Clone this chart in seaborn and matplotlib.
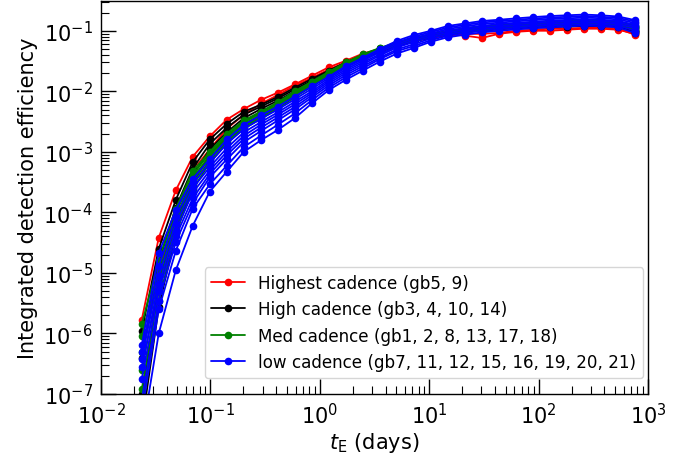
import numpy as np
import matplotlib
matplotlib.use("Agg")
import matplotlib.pyplot as plt
from matplotlib.lines import Line2D
import seaborn as sns
sns.set_style("white")
import pandas as pd

plt.rcParams['font.family'] = ['DejaVu Sans']
plt.rcParams['text.color'] = 'black'
plt.rcParams['axes.labelcolor'] = 'black'

# Einstein timescale grid (days)
tE = [0.0236, 0.0337, 0.0482, 0.0689, 0.0986, 0.141, 0.202, 0.289, 0.413, 0.591,
      0.845, 1.21, 1.73, 2.48, 3.54, 5.06, 7.24, 10.4, 14.8, 21.2,
      30.3, 43.4, 62.1, 88.8, 127, 182, 260, 372, 532, 761]

# Highest cadence fields
gb5 = [1.7e-6, 3.8e-5, 2.3e-4, 8.3e-4, 1.8e-3, 3.4e-3, 5.1e-3, 7.2e-3, 9.5e-3, 1.3e-2,
       1.8e-2, 2.5e-2, 3.2e-2, 4.2e-2, 5.0e-2, 6.1e-2, 6.8e-2, 7.9e-2, 8.9e-2, 8.3e-2,
       7.6e-2, 8.9e-2, 0.096, 0.100, 0.100, 0.104, 0.108, 0.108, 0.104, 0.089]
gb9 = [5e-8, 9.6e-6, 1.05e-4, 4.9e-4, 1.1e-3, 2.4e-3, 4.1e-3, 6.2e-3, 8.7e-3, 1.23e-2,
       1.66e-2, 2.3e-2, 3.0e-2, 3.9e-2, 4.9e-2, 5.9e-2, 6.8e-2, 7.6e-2, 8.3e-2, 8.9e-2,
       8.9e-2, 9.2e-2, 0.100, 0.104, 0.108, 0.108, 0.112, 0.112, 0.108, 0.086]

# High cadence fields
gb3 = [1.1e-6, 2.5e-5, 1.6e-4, 6.8e-4, 1.6e-3, 2.9e-3, 4.6e-3, 6.0e-3, 8.1e-3, 1.15e-2,
       1.6e-2, 2.2e-2, 3.0e-2, 3.9e-2, 4.9e-2, 5.9e-2, 7.0e-2, 8.3e-2, 9.2e-2, 0.100,
       0.104, 0.112, 0.117, 0.120, 0.123, 0.126, 0.130, 0.128, 0.125, 0.100]
gb4 = [4e-7, 1.5e-5, 1.2e-4, 5.3e-4, 1.35e-3, 2.5e-3, 4.1e-3, 5.6e-3, 7.6e-3, 1.08e-2,
       1.5e-2, 2.1e-2, 2.85e-2, 3.8e-2, 4.8e-2, 5.8e-2, 6.9e-2, 8.0e-2, 9.0e-2, 0.098,
       0.103, 0.110, 0.115, 0.118, 0.120, 0.124, 0.127, 0.125, 0.122, 0.098]
gb10 = [1.0e-7, 6e-6, 7e-5, 4e-4, 1.1e-3, 2.1e-3, 3.6e-3, 5.1e-3, 7.0e-3, 1.0e-2,
        1.42e-2, 2.0e-2, 2.7e-2, 3.6e-2, 4.6e-2, 5.7e-2, 6.8e-2, 7.9e-2, 8.8e-2, 0.096,
        0.100, 0.108, 0.113, 0.116, 0.118, 0.121, 0.123, 0.122, 0.120, 0.095]
gb14 = [3e-8, 2.7e-6, 4.5e-5, 3e-4, 9e-4, 1.8e-3, 3.2e-3, 4.6e-3, 6.4e-3, 9.2e-3,
        1.32e-2, 1.9e-2, 2.6e-2, 3.5e-2, 4.5e-2, 5.6e-2, 6.7e-2, 7.8e-2, 8.8e-2, 0.095,
        0.100, 0.106, 0.110, 0.113, 0.115, 0.117, 0.120, 0.119, 0.116, 0.093]

# Med cadence fields
gb1 = [1.43e-6, 1.6e-5, 1.15e-4, 4.8e-4, 1.0e-3, 2.0e-3, 3.3e-3, 4.6e-3, 6.6e-3, 1.0e-2,
       1.45e-2, 2.1e-2, 3.0e-2, 4.1e-2, 5.2e-2, 6.4e-2, 7.6e-2, 8.8e-2, 0.100, 0.110,
       0.118, 0.126, 0.132, 0.137, 0.140, 0.145, 0.148, 0.146, 0.142, 0.120]
gb2 = [9e-7, 1.2e-5, 9.5e-5, 4.2e-4, 9.5e-4, 1.85e-3, 3.1e-3, 4.35e-3, 6.3e-3, 9.6e-3,
       1.4e-2, 2.05e-2, 2.95e-2, 4.0e-2, 5.1e-2, 6.3e-2, 7.5e-2, 8.6e-2, 0.097, 0.107,
       0.115, 0.122, 0.128, 0.133, 0.136, 0.140, 0.144, 0.142, 0.138, 0.117]
gb8 = [5e-7, 9e-6, 8e-5, 3.7e-4, 8.7e-4, 1.7e-3, 2.9e-3, 4.1e-3, 6.0e-3, 9.2e-3,
       1.35e-2, 2.0e-2, 2.85e-2, 3.9e-2, 5.0e-2, 6.2e-2, 7.3e-2, 8.4e-2, 0.095, 0.104,
       0.112, 0.119, 0.125, 0.130, 0.133, 0.137, 0.140, 0.138, 0.134, 0.114]
gb13 = [2.5e-7, 7e-6, 6.5e-5, 3.2e-4, 8.0e-4, 1.6e-3, 2.7e-3, 3.9e-3, 5.7e-3, 8.8e-3,
        1.3e-2, 1.95e-2, 2.75e-2, 3.75e-2, 4.85e-2, 6.0e-2, 7.1e-2, 8.2e-2, 0.093, 0.101,
        0.109, 0.116, 0.122, 0.126, 0.129, 0.133, 0.136, 0.134, 0.130, 0.110]
gb17 = [1.2e-7, 5e-6, 5.5e-5, 2.8e-4, 7.3e-4, 1.5e-3, 2.55e-3, 3.7e-3, 5.5e-3, 8.4e-3,
        1.25e-2, 1.9e-2, 2.65e-2, 3.6e-2, 4.7e-2, 5.9e-2, 7.0e-2, 8.0e-2, 0.090, 0.099,
        0.106, 0.113, 0.119, 0.123, 0.126, 0.129, 0.132, 0.130, 0.127, 0.107]
gb18 = [6e-8, 3.5e-6, 4.5e-5, 2.4e-4, 6.6e-4, 1.4e-3, 2.4e-3, 3.5e-3, 5.2e-3, 8.0e-3,
        1.2e-2, 1.82e-2, 2.55e-2, 3.5e-2, 4.6e-2, 5.7e-2, 6.8e-2, 7.8e-2, 0.088, 0.096,
        0.103, 0.110, 0.115, 0.119, 0.122, 0.125, 0.128, 0.126, 0.123, 0.104]

# low cadence fields
gb7 = [6.5e-7, 2.1e-5, 1.1e-4, 3.6e-4, 7.6e-4, 1.6e-3, 2.8e-3, 4.0e-3, 5.6e-3, 8.2e-3,
       1.2e-2, 1.75e-2, 2.6e-2, 3.6e-2, 5.0e-2, 6.8e-2, 8.5e-2, 0.100, 0.120, 0.132,
       0.145, 0.152, 0.160, 0.168, 0.175, 0.180, 0.185, 0.180, 0.172, 0.150]
gb11 = [5e-7, 1.3e-5, 8.5e-5, 3.0e-4, 6.5e-4, 1.35e-3, 2.4e-3, 3.5e-3, 5.0e-3, 7.4e-3,
        1.1e-2, 1.65e-2, 2.45e-2, 3.4e-2, 4.7e-2, 6.4e-2, 8.0e-2, 0.095, 0.113, 0.125,
        0.137, 0.144, 0.151, 0.159, 0.165, 0.170, 0.175, 0.170, 0.163, 0.142]
gb12 = [3.8e-7, 9e-6, 6.5e-5, 2.5e-4, 5.6e-4, 1.15e-3, 2.1e-3, 3.1e-3, 4.5e-3, 6.7e-3,
        1.0e-2, 1.55e-2, 2.3e-2, 3.2e-2, 4.4e-2, 6.0e-2, 7.5e-2, 0.090, 0.107, 0.118,
        0.129, 0.136, 0.143, 0.150, 0.156, 0.160, 0.165, 0.161, 0.154, 0.134]
gb15 = [2.8e-7, 6.5e-6, 5e-5, 2.1e-4, 4.9e-4, 1.0e-3, 1.85e-3, 2.8e-3, 4.1e-3, 6.1e-3,
        9.3e-3, 1.45e-2, 2.15e-2, 3.0e-2, 4.1e-2, 5.6e-2, 7.0e-2, 0.085, 0.100, 0.111,
        0.121, 0.128, 0.135, 0.141, 0.147, 0.151, 0.155, 0.152, 0.145, 0.126]
gb16 = [1.8e-7, 5e-6, 4e-5, 1.7e-4, 4.3e-4, 8.8e-4, 1.65e-3, 2.5e-3, 3.7e-3, 5.5e-3,
        8.6e-3, 1.35e-2, 2.0e-2, 2.8e-2, 3.9e-2, 5.3e-2, 6.5e-2, 0.080, 0.094, 0.104,
        0.114, 0.120, 0.127, 0.133, 0.138, 0.142, 0.146, 0.143, 0.137, 0.118]
gb19 = [8e-8, 3.5e-6, 3.2e-5, 1.4e-4, 3.8e-4, 7.5e-4, 1.45e-3, 2.2e-3, 3.3e-3, 5.0e-3,
        7.9e-3, 1.25e-2, 1.85e-2, 2.6e-2, 3.6e-2, 4.9e-2, 6.0e-2, 0.075, 0.088, 0.098,
        0.107, 0.113, 0.119, 0.125, 0.130, 0.134, 0.137, 0.135, 0.129, 0.110]
gb20 = [5e-8, 2.5e-6, 2.3e-5, 1.15e-4, 2.9e-4, 5.9e-4, 1.2e-3, 1.85e-3, 2.8e-3, 4.3e-3,
        7.1e-3, 1.15e-2, 1.7e-2, 2.4e-2, 3.4e-2, 4.6e-2, 5.6e-2, 0.070, 0.083, 0.092,
        0.100, 0.106, 0.112, 0.117, 0.122, 0.126, 0.129, 0.127, 0.121, 0.100]
gb21 = [2e-8, 1.0e-6, 1.1e-5, 6e-5, 2.2e-4, 4.7e-4, 1.0e-3, 1.55e-3, 2.3e-3, 3.6e-3,
        6.3e-3, 1.05e-2, 1.55e-2, 2.2e-2, 3.1e-2, 4.2e-2, 5.2e-2, 0.066, 0.078, 0.086,
        0.094, 0.100, 0.105, 0.110, 0.114, 0.118, 0.121, 0.119, 0.114, 0.092]

groups = [
    ('Highest cadence (gb5, 9)', 'red', {'gb5': gb5, 'gb9': gb9}),
    ('High cadence (gb3, 4, 10, 14)', 'black',
     {'gb3': gb3, 'gb4': gb4, 'gb10': gb10, 'gb14': gb14}),
    ('Med cadence (gb1, 2, 8, 13, 17, 18)', 'green',
     {'gb1': gb1, 'gb2': gb2, 'gb8': gb8, 'gb13': gb13, 'gb17': gb17, 'gb18': gb18}),
    ('low cadence (gb7, 11, 12, 15, 16, 19, 20, 21)', 'blue',
     {'gb7': gb7, 'gb11': gb11, 'gb12': gb12, 'gb15': gb15, 'gb16': gb16,
      'gb19': gb19, 'gb20': gb20, 'gb21': gb21}),
]

xticks = [1e-2, 1e-1, 1e0, 1e1, 1e2, 1e3]
yticks = [1e-7, 1e-6, 1e-5, 1e-4, 1e-3, 1e-2, 1e-1]

fig = plt.figure(figsize=(6.94, 4.6), dpi=100)
ax = fig.add_axes([101/694, 65/460, 547/694, 393/460])

handles = []
for label, color, fields in groups:
    rows = []
    for name, vals in fields.items():
        for t, v in zip(tE, vals):
            rows.append((name, t, v))
    df = pd.DataFrame(rows, columns=['field', 'tE', 'eff'])
    sns.lineplot(data=df, x='tE', y='eff', units='field', estimator=None,
                 color=color, marker='o', markersize=5.5, markeredgewidth=0,
                 linewidth=1.3, legend=False, ax=ax)
    handles.append(Line2D([], [], color=color, marker='o', markersize=5.5,
                          markeredgewidth=0, linewidth=1.3, label=label))

ax.set_xscale('log')
ax.set_yscale('log')
ax.set_xticks(xticks)
ax.set_yticks(yticks)
ax.set_xlim(1e-2, 1e3)
ax.set_ylim(1e-7, 0.31)

for side in ['left', 'right', 'top', 'bottom']:
    ax.spines[side].set_color('black')
    ax.spines[side].set_linewidth(1.0)

ax.tick_params(axis='both', which='both', direction='in', bottom=True, left=True,
               top=False, right=False, colors='black')
ax.tick_params(axis='both', which='major', length=10.5, width=1.0, labelsize=15, pad=6)
ax.tick_params(axis='both', which='minor', length=5.5, width=0.8)

ax.set_xlabel(r'$t_{\rm E}$ (days)', fontsize=15, labelpad=2)
ax.set_ylabel('Integrated detection efficiency', fontsize=15)

ax.legend(handles=handles, loc='lower right', bbox_to_anchor=(0.991, 0.041),
          borderaxespad=0, fontsize=12.1)

fig.savefig('out.png', dpi=100)
